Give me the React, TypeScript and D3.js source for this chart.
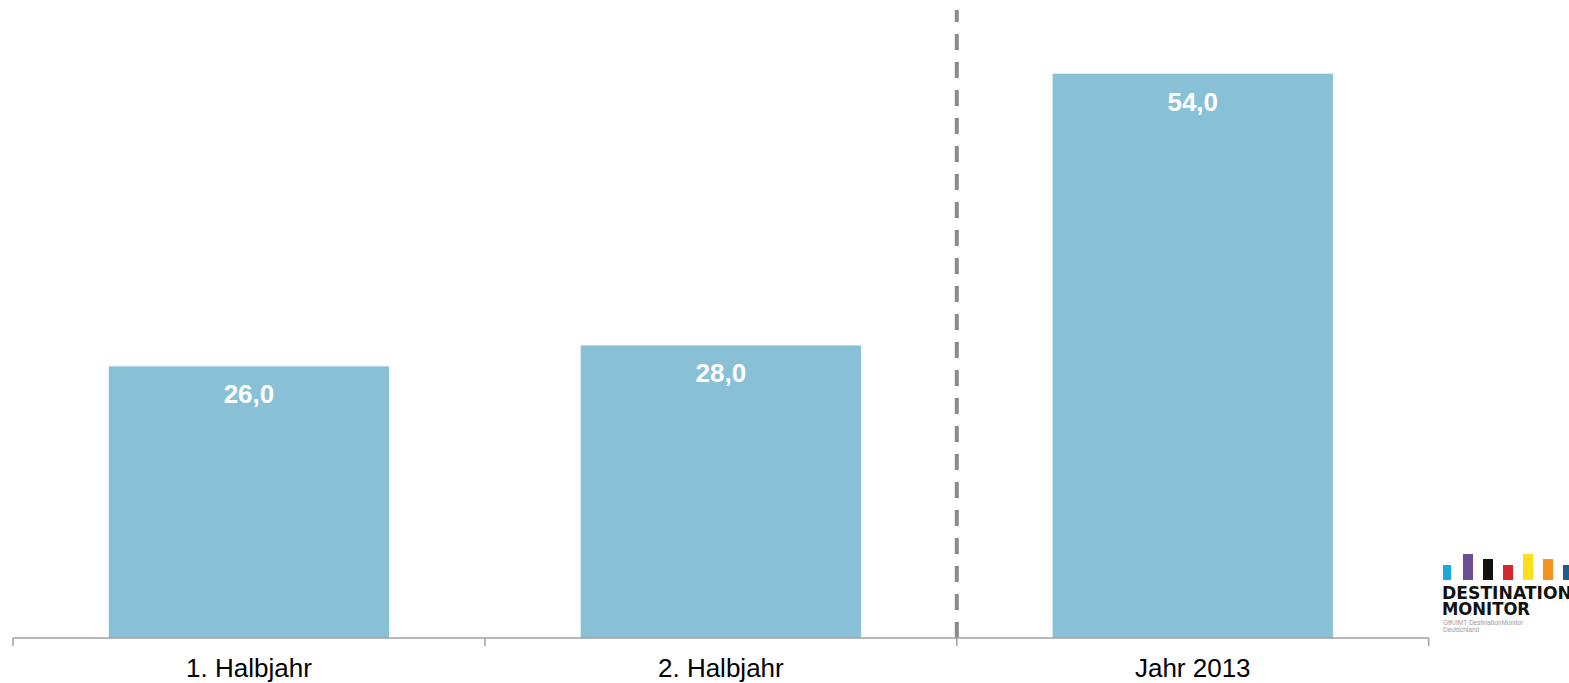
import React from "react";
import * as d3 from "d3";

const categories = ["1. Halbjahr", "2. Halbjahr", "Jahr 2013"];
const values = [26.0, 28.0, 54.0];
const yMax = 60;

// brand marks of the DestinationMonitor logo: colour and relative height
const logoColors = ["#1ba6dc", "#6b4d94", "#111111", "#d5262b", "#fde01c", "#f6921e", "#1d5d8a"];
const logoHeights = [15, 26, 21, 15, 26, 21, 15];

const W = 1569;
const H = 683;
const BASE = 638;
const LEFT = 13;
const RIGHT = 1428.7;

const deLocale = d3.formatLocale({ decimal: ",", thousands: ".", grouping: [3], currency: ["", " €"] });
const fmt = deLocale.format(".1f");

export default function App() {
  const x = d3.scaleBand<string>().domain(categories).range([LEFT, RIGHT]).paddingInner(0.406).paddingOuter(0.203);
  const y = d3.scaleLinear().domain([0, yMax]).range([BASE, 11]);
  const step = x.step();
  const edges = d3.range(categories.length + 1).map((i) => LEFT + i * step);
  const divider = edges[2];
  const font = "'Liberation Sans', Arial, sans-serif";

  return (
    <div style={{ position: "absolute", left: 0, top: 0 }}>
      <svg width={W} height={H} style={{ display: "block", background: "#fff" }}>
        {/* bars */}
        {categories.map((c, i) => (
          <rect key={c} x={x(c)} y={y(values[i])} width={x.bandwidth()} height={BASE - y(values[i])} fill="#88c0d6" />
        ))}
        {/* value labels */}
        {categories.map((c, i) => (
          <text
            key={c + "-v"}
            x={(x(c) as number) + x.bandwidth() / 2}
            y={y(values[i]) + 37}
            textAnchor="middle"
            fill="#ffffff"
            fontFamily={font}
            fontWeight="bold"
            fontSize={26}
          >
            {fmt(values[i])}
          </text>
        ))}
        {/* divider between half years and full year */}
        <line
          x1={divider}
          x2={divider}
          y1={10}
          y2={BASE}
          stroke="#8a8a8a"
          strokeWidth={4}
          strokeDasharray="16 12"
          strokeDashoffset={4}
        />
        {/* category axis */}
        <line x1={LEFT} x2={RIGHT} y1={BASE} y2={BASE} stroke="#a0a0a0" strokeWidth={1.5} />
        {edges.map((e, i) => (
          <line key={i} x1={e} x2={e} y1={BASE} y2={BASE + 8} stroke="#a0a0a0" strokeWidth={1.5} />
        ))}
        {categories.map((c) => (
          <text
            key={c + "-l"}
            x={(x(c) as number) + x.bandwidth() / 2}
            y={677}
            textAnchor="middle"
            fill="#000"
            fontFamily={font}
            fontSize={26}
          >
            {c}
          </text>
        ))}
        {/* logo */}
        <g transform="translate(1443,580)">
          {logoColors.map((col, i) => (
            <rect key={col} x={i * 20} y={-logoHeights[i]} width={i === 0 ? 8 : 10} height={logoHeights[i]} fill={col} />
          ))}
          <text x={-1} y={19} fontFamily="'DejaVu Sans', Arial, sans-serif" fontWeight="bold" fontSize={17} fill="#111" textLength={130} lengthAdjust="spacingAndGlyphs">
            DESTINATION
          </text>
          <text x={-1} y={35} fontFamily="'DejaVu Sans', Arial, sans-serif" fontWeight="bold" fontSize={17} fill="#111" textLength={88} lengthAdjust="spacingAndGlyphs">
            MONITOR
          </text>
          <text x={0} y={45} fontFamily={font} fontSize={6.5} fill="#9a9a9a">
            GfK/IMT DestinationMonitor
          </text>
          <text x={0} y={52} fontFamily={font} fontSize={6.5} fill="#9a9a9a">
            Deutschland
          </text>
        </g>
      </svg>
    </div>
  );
}
